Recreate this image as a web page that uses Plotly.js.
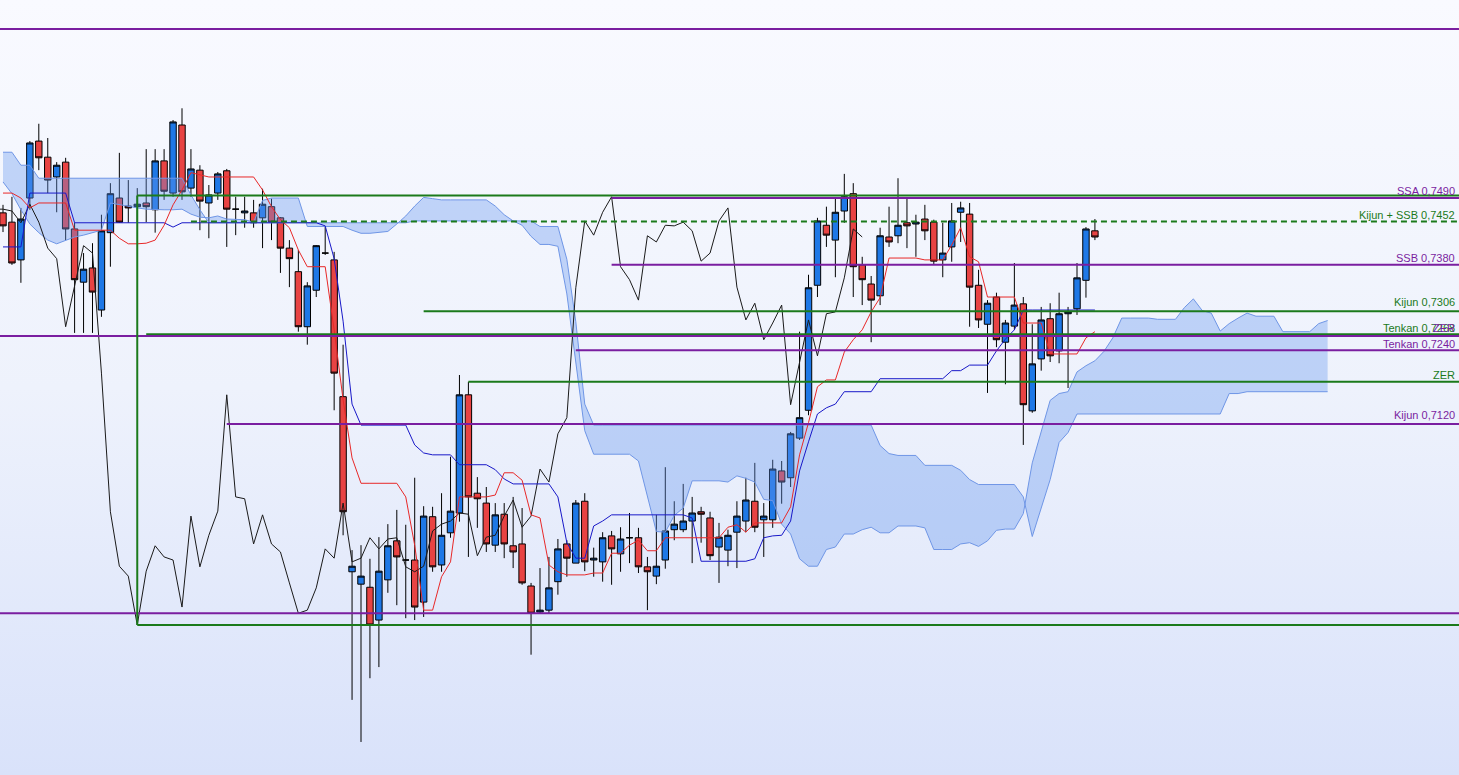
<!DOCTYPE html>
<html>
<head>
<meta charset="utf-8">
<script src="https://cdn.plot.ly/plotly-3.0.1.min.js"></script>
<style>
html,body{margin:0;padding:0;}
#chart{width:1459px;height:775px;background:linear-gradient(to bottom,#f9faff 0%,#eef2fc 50%,#d9e2fa 100%);}
</style>
</head>
<body>
<div id="chart"></div>
<script>
// ---- candles (price) ----
const openP = [0.7463,0.7448,0.7387,0.7487,0.7579,0.7553,0.7521,0.7545,0.7437,0.7351,
0.7374,0.7306,0.7431,0.7487,0.7474,0.7473,0.7479,0.7468,0.7547,0.7495,
0.7605,0.7503,0.7532,0.7479,0.7495,0.7531,0.7469,0.7463,0.7463,0.7455,
0.7473,0.7455,0.7406,0.7368,0.7279,0.7338,0.7398,0.7387,0.7166,0.6883,
0.6863,0.6858,0.6805,0.6870,0.6933,0.6902,0.6902,0.6834,0.6972,0.6894,
0.6946,0.6978,0.7169,0.7010,0.6994,0.6926,0.6976,0.6925,0.6928,0.6860,
0.6818,0.6821,0.6867,0.6928,0.6897,0.6997,0.6902,0.6899,0.6941,0.6912,
0.6938,0.6938,0.6891,0.6876,0.6902,0.6951,0.6951,0.6965,0.6980,0.6970,
0.6923,0.6918,0.6947,0.6965,0.6997,0.6967,0.6967,0.7046,0.7035,0.7099,
0.7144,0.7346,0.7443,0.7419,0.7466,0.7494,0.7379,0.7348,0.7329,0.7424,
0.7426,0.7447,0.7445,0.7453,0.7448,0.7387,0.7408,0.7464,0.7461,0.7346,
0.7283,0.7327,0.7254,0.7280,0.7316,0.7143,0.7227,0.7292,0.7240,0.7300,
0.7308,0.7354,0.7434];
const highP = [0.7476,0.7489,0.7471,0.7579,0.7607,0.7584,0.7545,0.7552,0.7447,0.7398,
0.7414,0.7460,0.7511,0.7560,0.7516,0.7503,0.7566,0.7566,0.7566,0.7613,
0.7632,0.7566,0.7540,0.7508,0.7529,0.7534,0.7489,0.7489,0.7484,0.7502,
0.7486,0.7456,0.7419,0.7403,0.7351,0.7411,0.7440,0.7400,0.7250,0.6918,
0.6926,0.6904,0.6939,0.6960,0.6983,0.6959,0.7035,0.6989,0.6988,0.7010,
0.7069,0.7201,0.7190,0.7036,0.7020,0.6994,0.6994,0.7004,0.6986,0.6865,
0.6889,0.6907,0.6936,0.6934,0.6999,0.7010,0.6922,0.6947,0.6949,0.6955,
0.6978,0.6954,0.6907,0.6975,0.7052,0.6997,0.7025,0.7004,0.6988,0.6980,
0.6962,0.6951,0.6997,0.7035,0.7059,0.6994,0.7064,0.7062,0.7109,0.7271,
0.7363,0.7455,0.7473,0.7486,0.7526,0.7511,0.7392,0.7361,0.7439,0.7473,
0.7519,0.7486,0.7460,0.7476,0.7452,0.7447,0.7479,0.7481,0.7479,0.7371,
0.7322,0.7334,0.7290,0.7382,0.7327,0.7283,0.7311,0.7317,0.7334,0.7311,
0.7382,0.7440,0.7453];
const lowP = [0.7432,0.7379,0.7350,0.7468,0.7532,0.7495,0.7464,0.7419,0.7269,0.7269,
0.7269,0.7295,0.7376,0.7447,0.7447,0.7448,0.7448,0.7431,0.7484,0.7489,
0.7484,0.7489,0.7435,0.7422,0.7484,0.7408,0.7427,0.7439,0.7439,0.7406,
0.7419,0.7366,0.7343,0.7271,0.7250,0.7327,0.7395,0.7144,0.6942,0.6676,
0.6608,0.6711,0.6729,0.6849,0.6829,0.6808,0.6805,0.6810,0.6883,0.6883,
0.6938,0.6964,0.6907,0.6954,0.6915,0.6915,0.6905,0.6889,0.6862,0.6749,
0.6816,0.6816,0.6846,0.6875,0.6897,0.6884,0.6875,0.6867,0.6862,0.6883,
0.6897,0.6881,0.6821,0.6863,0.6888,0.6934,0.6947,0.6897,0.6930,0.6902,
0.6865,0.6892,0.6889,0.6947,0.6947,0.6907,0.6954,0.6993,0.7020,0.7096,
0.7136,0.7327,0.7408,0.7359,0.7447,0.7327,0.7314,0.7254,0.7314,0.7408,
0.7414,0.7406,0.7392,0.7419,0.7379,0.7359,0.7384,0.7416,0.7279,0.7277,
0.7172,0.7246,0.7186,0.7274,0.7088,0.7140,0.7208,0.7222,0.7220,0.7180,
0.7298,0.7326,0.7419];
const closeP = [0.7442,0.7382,0.7453,0.7576,0.7552,0.7516,0.7540,0.7437,0.7355,0.7372,
0.7335,0.7434,0.7494,0.7448,0.7471,0.7477,0.7473,0.7547,0.7498,0.7610,
0.7497,0.7534,0.7482,0.7492,0.7526,0.7469,0.7469,0.7466,0.7447,0.7477,
0.7448,0.7406,0.7389,0.7279,0.7345,0.7410,0.7398,0.7204,0.6980,0.6892,
0.6876,0.6797,0.6884,0.6925,0.6907,0.6902,0.6826,0.6973,0.6891,0.6942,
0.6981,0.7169,0.7004,0.7001,0.6928,0.6975,0.6928,0.6915,0.6865,0.6816,
0.6821,0.6857,0.6920,0.6905,0.6994,0.6899,0.6905,0.6938,0.6920,0.6936,
0.6938,0.6891,0.6883,0.6892,0.6949,0.6960,0.6965,0.6978,0.6976,0.6909,
0.6939,0.6942,0.6973,0.6999,0.6955,0.6973,0.7049,0.7028,0.7106,0.7132,
0.7342,0.7450,0.7427,0.7464,0.7489,0.7376,0.7355,0.7322,0.7426,0.7416,
0.7443,0.7442,0.7448,0.7434,0.7385,0.7398,0.7450,0.7471,0.7343,0.7290,
0.7317,0.7258,0.7285,0.7314,0.7153,0.7219,0.7290,0.7232,0.7300,0.7303,
0.7358,0.7437,0.7424];

// ---- Ichimoku lines ----
const tenkan = [0.7495,0.7495,0.7487,0.7471,0.7479,0.7479,0.7479,0.7479,0.7435,0.7435,
0.7435,0.7435,0.7435,0.7422,0.7413,0.7413,0.7414,0.7419,0.7443,0.7476,
0.7500,0.7528,0.7524,0.7521,0.7521,0.7521,0.7521,0.7521,0.7521,0.7500,
0.7473,0.7452,0.7439,0.7403,0.7376,0.7376,0.7376,0.7274,0.7161,0.7067,
0.7026,0.7026,0.7026,0.7026,0.7026,0.7004,0.6926,0.6821,0.6821,0.6875,
0.6899,0.7004,0.7004,0.7004,0.7004,0.7007,0.7043,0.7043,0.7031,0.6975,
0.6970,0.6894,0.6883,0.6878,0.6878,0.6878,0.6881,0.6881,0.6913,0.6913,
0.6926,0.6934,0.6917,0.6917,0.6938,0.6938,0.6938,0.6938,0.6938,0.6938,
0.6938,0.6955,0.6959,0.6947,0.6962,0.6962,0.6962,0.6962,0.6988,0.7072,
0.7124,0.7182,0.7193,0.7193,0.7238,0.7258,0.7274,0.7303,0.7326,0.7390,
0.7390,0.7390,0.7390,0.7387,0.7387,0.7387,0.7411,0.7439,0.7392,0.7384,
0.7327,0.7327,0.7327,0.7327,0.7285,0.7285,0.7285,0.7235,0.7235,0.7235,
0.7235,0.7261,0.7271];
const kijun = [0.7408,0.7408,0.7408,0.7495,0.7495,0.7495,0.7495,0.7495,0.7447,0.7447,
0.7447,0.7447,0.7447,0.7447,0.7447,0.7447,0.7447,0.7447,0.7447,0.7440,
0.7447,0.7447,0.7447,0.7447,0.7447,0.7447,0.7447,0.7447,0.7447,0.7447,
0.7447,0.7447,0.7447,0.7447,0.7447,0.7447,0.7442,0.7389,0.7288,0.7154,
0.7120,0.7120,0.7120,0.7120,0.7120,0.7120,0.7088,0.7075,0.7072,0.7072,
0.7072,0.7056,0.7056,0.7056,0.7056,0.7048,0.7033,0.7025,0.7025,0.7025,
0.7025,0.7025,0.7004,0.6930,0.6905,0.6905,0.6957,0.6965,0.6975,0.6975,
0.6975,0.6975,0.6975,0.6975,0.6975,0.6975,0.6975,0.6970,0.6900,0.6900,
0.6900,0.6900,0.6900,0.6900,0.6904,0.6938,0.6941,0.6942,0.6965,0.7046,
0.7093,0.7138,0.7148,0.7154,0.7174,0.7174,0.7174,0.7174,0.7195,0.7195,
0.7195,0.7195,0.7195,0.7195,0.7195,0.7195,0.7208,0.7208,0.7217,0.7217,
0.7217,0.7240,0.7259,0.7274,0.7306,0.7306,0.7306,0.7306,0.7306,0.7306,
0.7306,0.7306,0.7306];
const senkouA = [0.7513,0.7494,0.7468,0.7445,0.7431,0.7419,0.7413,0.7418,0.7424,0.7427,
0.7431,0.7435,0.7479,0.7476,0.7473,0.7471,0.7469,0.7468,0.7468,0.7468,
0.7469,0.7461,0.7456,0.7455,0.7458,0.7453,0.7452,0.7452,0.7448,0.7483,
0.7487,0.7487,0.7487,0.7487,0.7441,0.7441,0.7441,0.7441,0.7441,0.7435,
0.7430,0.7430,0.7431,0.7433,0.7445,0.7458,0.7474,0.7488,0.7486,0.7484,
0.7484,0.7484,0.7484,0.7484,0.7484,0.7474,0.7460,0.7450,0.7443,0.7425,
0.7412,0.7412,0.7409,0.7332,0.7225,0.7111,0.7073,0.7073,0.7073,0.7073,
0.7073,0.7062,0.7007,0.6948,0.6947,0.6974,0.6986,0.7030,0.7030,0.7030,
0.7030,0.7028,0.7038,0.7034,0.7028,0.7000,0.6998,0.6960,0.6944,0.6904,
0.6892,0.6892,0.6919,0.6923,0.6944,0.6944,0.6951,0.6955,0.6946,0.6946,
0.6957,0.6957,0.6957,0.6954,0.6919,0.6919,0.6919,0.6928,0.6930,0.6924,
0.6933,0.6950,0.6952,0.6952,0.6977,0.7059,0.7109,0.7160,0.7171,0.7174,
0.7206,0.7216,0.7224,0.7239,0.7261,0.7293,0.7293,0.7293,0.7293,0.7291,
0.7291,0.7291,0.7310,0.7324,0.7305,0.7301,0.7272,0.7284,0.7293,0.7301,
0.7296,0.7296,0.7296,0.7271,0.7271,0.7271,0.7271,0.7284,0.7289];
const senkouB = [0.7561,0.7561,0.7540,0.7540,0.7519,0.7519,0.7519,0.7519,0.7519,0.7519,
0.7519,0.7519,0.7519,0.7519,0.7519,0.7519,0.7519,0.7519,0.7519,0.7519,
0.7519,0.7492,0.7468,0.7447,0.7447,0.7447,0.7447,0.7447,0.7447,0.7447,
0.7447,0.7447,0.7447,0.7447,0.7447,0.7447,0.7447,0.7447,0.7447,0.7447,
0.7447,0.7447,0.7447,0.7447,0.7447,0.7447,0.7450,0.7450,0.7450,0.7450,
0.7450,0.7450,0.7450,0.7450,0.7450,0.7450,0.7450,0.7450,0.7450,0.7450,
0.7441,0.7441,0.7441,0.7388,0.7287,0.7154,0.7120,0.7120,0.7120,0.7120,
0.7120,0.7120,0.7120,0.7120,0.7120,0.7120,0.7120,0.7120,0.7120,0.7120,
0.7120,0.7120,0.7120,0.7120,0.7120,0.7120,0.7120,0.7120,0.7120,0.7120,
0.7120,0.7120,0.7120,0.7120,0.7120,0.7120,0.7120,0.7120,0.7087,0.7074,
0.7071,0.7071,0.7071,0.7055,0.7055,0.7055,0.7055,0.7047,0.7032,0.7024,
0.7024,0.7024,0.7024,0.7024,0.7004,0.6940,0.6986,0.7032,0.7092,0.7108,
0.7138,0.7138,0.7138,0.7138,0.7138,0.7138,0.7138,0.7138,0.7138,0.7138,
0.7138,0.7138,0.7138,0.7138,0.7138,0.7138,0.7138,0.7171,0.7171,0.7174,
0.7174,0.7174,0.7174,0.7174,0.7174,0.7174,0.7174,0.7174,0.7174];
const chikouShift = 26;

// ---- horizontal levels ----
const levelValues = [0.7760, 0.7487, 0.7491, 0.7449, 0.7379, 0.7304, 0.7267, 0.7264, 0.7241, 0.7190, 0.7122, 0.6816, 0.6797];
const levelFrom   = [-2, 68, 15, 21, 68, 47, 16, -2, 64, 52, 25, -2, 15];
const levelLabels = ['', 'SSA 0,7490', '', 'Kijun + SSB 0,7452', 'SSB 0,7380', 'Kijun 0,7306', 'Tenkan 0,7268', 'ZER', 'Tenkan 0,7240', 'ZER', 'Kijun 0,7120', '', ''];
const verticalAt = 15;

const PURPLE = '#7a1ea0', GREEN = '#1b7a1b';
const levelColor = [PURPLE, PURPLE, GREEN, GREEN, PURPLE, GREEN, GREEN, PURPLE, PURPLE, GREEN, PURPLE, PURPLE, GREEN];
const levelDash  = ['solid','solid','solid','6px,4px','solid','solid','solid','solid','solid','solid','solid','solid','solid'];
const labelShift = [0, 7.5, 0, 6.9, 7.2, 8.8, 6.2, 8.0, 6.2, 7.3, 8.9, 0, 0];

const idx = openP.map((_, i) => i);
const cloudX = senkouA.map((_, i) => i);
const chikouX = closeP.map((_, i) => i - chikouShift);

const traces = [
  {x: cloudX, y: senkouB, type: 'scatter', mode: 'lines', line: {color: '#6f96e6', width: 1}, hoverinfo: 'skip'},
  {x: cloudX, y: senkouA, type: 'scatter', mode: 'lines', line: {color: '#6f96e6', width: 1}, fill: 'tonexty', fillcolor: 'rgba(100,149,237,0.36)', hoverinfo: 'skip'},
  {type: 'candlestick', x: idx, open: openP, high: highP, low: lowP, close: closeP,
   increasing: {line: {color: '#000000', width: 1}, fillcolor: '#1e78e6'},
   decreasing: {line: {color: '#000000', width: 1}, fillcolor: '#e84343'},
   whiskerwidth: 0, hoverinfo: 'skip'},
  {x: chikouX, y: closeP, type: 'scatter', mode: 'lines', line: {color: '#1a1a1a', width: 1}, hoverinfo: 'skip'},
  {x: idx, y: kijun, type: 'scatter', mode: 'lines', line: {color: '#1818c8', width: 1}, hoverinfo: 'skip'},
  {x: idx, y: tenkan, type: 'scatter', mode: 'lines', line: {color: '#e82828', width: 1}, hoverinfo: 'skip'}
];

const shapes = levelValues.map((v, k) => ({
  type: 'line', xref: 'x', yref: 'y', x0: levelFrom[k], x1: 220, y0: v, y1: v,
  line: {color: levelColor[k], width: 2, dash: levelDash[k]}
}));
shapes.push({type: 'line', xref: 'x', yref: 'y', x0: verticalAt, x1: verticalAt,
  y0: levelValues[12], y1: levelValues[2], line: {color: GREEN, width: 2}});

const annotations = [];
levelValues.forEach((v, k) => {
  if (!levelLabels[k]) return;
  annotations.push({xref: 'paper', x: 1, xanchor: 'right', xshift: -2, yref: 'y', y: v,
    yanchor: 'middle', yshift: labelShift[k], text: levelLabels[k], showarrow: false,
    font: {family: 'Liberation Sans, Arial, sans-serif', size: 11, color: levelColor[k]}});
});

const layout = {
  width: 1459, height: 775,
  margin: {l: 0, r: 0, t: 0, b: 0, pad: 0},
  paper_bgcolor: 'rgba(0,0,0,0)', plot_bgcolor: 'rgba(0,0,0,0)',
  showlegend: false, hovermode: false,
  boxgap: 0.22, boxgroupgap: 0.08,
  xaxis: {range: [-0.335, 162.68], visible: false, rangeslider: {visible: false}, fixedrange: true},
  yaxis: {range: [0.65546, 0.7807], visible: false, fixedrange: true},
  shapes: shapes, annotations: annotations
};

Plotly.newPlot('chart', traces, layout, {staticPlot: true, displayModeBar: false});
</script>
</body>
</html>
